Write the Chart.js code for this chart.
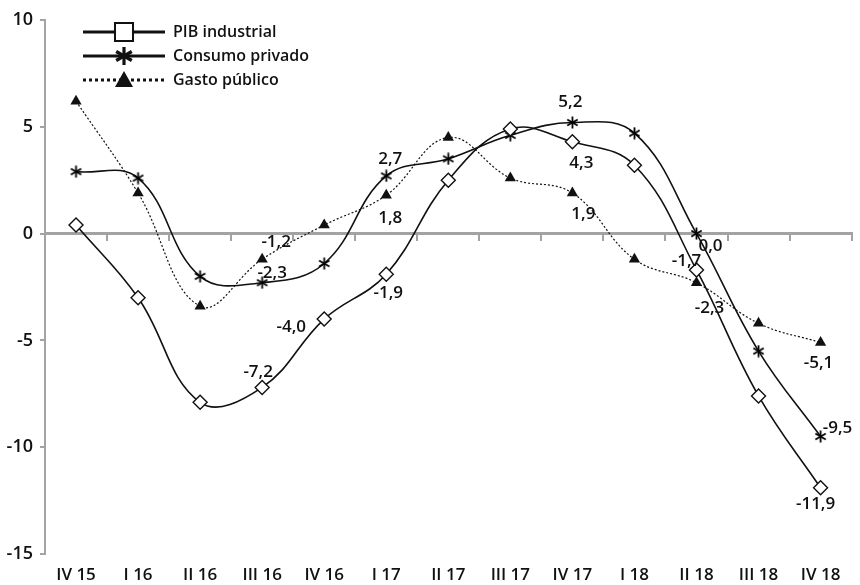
<!DOCTYPE html>
<html>
<head>
<meta charset="utf-8">
<script src="https://cdn.jsdelivr.net/npm/chart.js@4.4.1/dist/chart.umd.min.js"></script>
<style>
  html, body { margin: 0; padding: 0; background: #ffffff; }
  #wrap { width: 860px; height: 585px; position: relative; }
</style>
</head>
<body>
<div id="wrap"><canvas id="c" width="860" height="585"></canvas></div>
<script>
// ---- data ----
const categories = ['IV 15','I 16','II 16','III 16','IV 16','I 17','II 17','III 17','IV 17','I 18','II 18','III 18','IV 18'];
const seriesNames = ['PIB industrial', 'Consumo privado', 'Gasto público'];
const pibIndustrial  = [0.4, -3.0, -7.9, -7.2, -4.0, -1.9, 2.5, 4.9, 4.3, 3.2, -1.7, -7.6, -11.9];
const consumoPrivado = [2.9, 2.6, -2.0, -2.3, -1.4, 2.7, 3.5, 4.6, 5.2, 4.7, 0.0, -5.5, -9.5];
const gastoPublico   = [6.2, 1.9, -3.4, -1.2, 0.4, 1.8, 4.5, 2.6, 1.9, -1.2, -2.3, -4.2, -5.1];
const yTicks = [-15, -10, -5, 0, 5, 10];
// which points carry a value label
const pibLabeled     = [3, 4, 5, 8, 10, 12];
const consumoLabeled = [3, 5, 8, 10, 12];
const gastoLabeled   = [3, 5, 8, 10, 12];

// ---- styling / placement (not data) ----
const FONT = '"Open Sans", "DejaVu Sans", sans-serif';
const INK = '#111111';
const GREY = '#a3a3a3';
const labelOffsets = [
  {3: [-4, -15], 4: [-33, 8], 5: [2, 19], 8: [9, 21], 10: [-10, -9], 12: [-5, 16]},
  {3: [10, -10], 5: [4, -17], 8: [-2, -20], 10: [14, 13], 12: [17, -8]},
  {3: [14, -17], 5: [4, 23], 8: [11, 21], 10: [13, 25], 12: [-2, 21]}
];

function makeAsterisk(size, lw) {
  const cv = document.createElement('canvas');
  cv.width = size; cv.height = size;
  const g = cv.getContext('2d');
  g.strokeStyle = '#000'; g.lineWidth = lw; g.lineCap = 'butt';
  const c = size / 2, r = size / 2 - 0.5;
  for (let k = 0; k < 3; k++) {
    const a = Math.PI / 2 + k * Math.PI / 3;
    g.beginPath();
    g.moveTo(c + r * Math.cos(a), c + r * Math.sin(a));
    g.lineTo(c - r * Math.cos(a), c - r * Math.sin(a));
    g.stroke();
  }
  return cv;
}
const asteriskSmall = makeAsterisk(13, 1.8);

function fmt(v) { return v.toFixed(1).replace('.', ','); }

const valueLabels = {
  id: 'valueLabels',
  afterDatasetsDraw(chart) {
    const ctx = chart.ctx;
    const lists = [pibLabeled, consumoLabeled, gastoLabeled];
    ctx.save();
    ctx.font = '600 17px ' + FONT;
    ctx.fillStyle = INK;
    ctx.textAlign = 'center';
    ctx.textBaseline = 'middle';
    chart.data.datasets.forEach((ds, di) => {
      const meta = chart.getDatasetMeta(di);
      lists[di].forEach(i => {
        const el = meta.data[i];
        const off = labelOffsets[di][i] || [0, -15];
        ctx.fillText(fmt(ds.data[i]), el.x + off[0], el.y + off[1]);
      });
    });
    ctx.restore();
  }
};

const customLegend = {
  id: 'customLegend',
  afterDraw(chart) {
    const ctx = chart.ctx;
    const x0 = 83, x1 = 165, xm = 124, xt = 173;
    const rows = [32, 56, 80];
    ctx.save();
    chart.data.datasets.forEach((ds, i) => {
      const y = rows[i];
      ctx.strokeStyle = INK;
      ctx.lineWidth = 3;
      ctx.setLineDash(i === 2 ? [3, 3] : []);
      ctx.beginPath(); ctx.moveTo(x0, y); ctx.lineTo(x1, y); ctx.stroke();
      ctx.setLineDash([]);
      if (i === 0) {
        ctx.fillStyle = '#fff'; ctx.lineWidth = 2;
        ctx.fillRect(xm - 9, y - 9, 18, 18);
        ctx.strokeRect(xm - 9, y - 9, 18, 18);
      } else if (i === 1) {
        ctx.lineWidth = 3.2;
        for (let k = 0; k < 3; k++) {
          const a = Math.PI / 2 + k * Math.PI / 3, r = 9;
          ctx.beginPath();
          ctx.moveTo(xm + r * Math.cos(a), y + r * Math.sin(a));
          ctx.lineTo(xm - r * Math.cos(a), y - r * Math.sin(a));
          ctx.stroke();
        }
      } else {
        ctx.fillStyle = INK;
        ctx.beginPath();
        ctx.moveTo(xm, y - 9); ctx.lineTo(xm + 9, y + 7); ctx.lineTo(xm - 9, y + 7);
        ctx.closePath(); ctx.fill();
      }
      ctx.fillStyle = INK;
      ctx.font = '600 16px ' + FONT;
      ctx.textAlign = 'left';
      ctx.textBaseline = 'middle';
      ctx.fillText(ds.label, xt, y);
    });
    ctx.restore();
  }
};

new Chart(document.getElementById('c'), {
  type: 'line',
  data: {
    labels: categories,
    datasets: [
      {
        label: seriesNames[0], data: pibIndustrial,
        borderColor: INK, borderWidth: 1.6, tension: 0.4,
        pointStyle: 'rectRot', pointRadius: 7, pointBorderWidth: 1.4,
        pointBackgroundColor: '#fff', pointBorderColor: INK, fill: false
      },
      {
        label: seriesNames[1], data: consumoPrivado,
        borderColor: INK, borderWidth: 1.6, tension: 0.4,
        pointStyle: asteriskSmall, pointRadius: 6,
        pointBackgroundColor: INK, pointBorderColor: INK, fill: false
      },
      {
        label: seriesNames[2], data: gastoPublico,
        borderColor: INK, borderWidth: 1.2, borderDash: [2, 2], tension: 0.4,
        pointStyle: 'triangle', pointRadius: 6.5, pointBorderWidth: 0,
        pointBackgroundColor: INK, pointBorderColor: INK, fill: false
      }
    ]
  },
  options: {
    responsive: false,
    animation: false,
    events: [],
    layout: { padding: { top: 20, right: 3, bottom: 0, left: 0 } },
    plugins: { legend: { display: false }, tooltip: { enabled: false } },
    scales: {
      x: {
        type: 'category',
        position: { y: 0 },
        offset: true,
        afterFit(scale) { scale.height = 0; },
        grid: { display: true, drawOnChartArea: false, drawTicks: true, tickLength: 6, offset: true, color: GREY, lineWidth: 2 },
        border: { display: true, color: GREY, width: 3 },
        ticks: { display: false }
      },
      x2: {
        type: 'category',
        position: 'bottom',
        labels: categories,
        offset: true,
        afterFit(scale) { scale.height = 31; },
        grid: { display: false },
        border: { display: false },
        ticks: { color: INK, font: { family: FONT, size: 17, weight: '600' }, padding: 3, maxRotation: 0, autoSkip: false }
      },
      y: {
        min: yTicks[0], max: yTicks[yTicks.length - 1],
        afterBuildTicks(scale) { scale.ticks = yTicks.map(v => ({ value: v })); },
        afterFit(scale) { scale.width = 45; },
        grid: { display: true, drawOnChartArea: false, drawTicks: true, tickLength: 5, color: GREY, lineWidth: 2 },
        border: { display: true, color: GREY, width: 2 },
        ticks: { color: INK, font: { family: FONT, size: 18, weight: '600' }, padding: 7 }
      }
    }
  },
  plugins: [valueLabels, customLegend]
});
</script>
</body>
</html>
